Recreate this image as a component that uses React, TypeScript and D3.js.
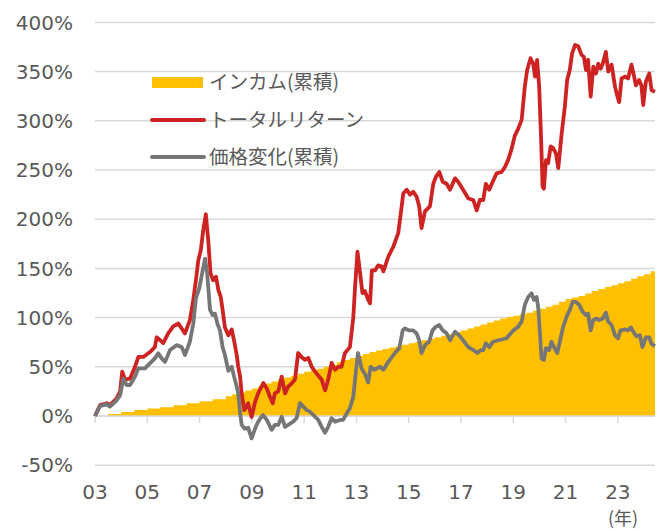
import * as d3 from "d3";

const width = 666;
const height = 531;

// y軸の目盛り (%)
const yTicks = [-50, 0, 50, 100, 150, 200, 250, 300, 350, 400];
// x軸の目盛り
const xTickYears = [2003, 2005, 2007, 2009, 2011, 2013, 2015, 2017, 2019, 2021, 2023];
const xTickLabels = ["03", "05", "07", "09", "11", "13", "15", "17", "19", "21", "23"];

const legendLabels = ["インカム(累積)", "トータルリターン", "価格変化(累積)"];

// インカム(累積) [年, %]
const income: [number, number][] = [
  [2003.0, 0], [2003.5, 2], [2004.0, 4], [2004.5, 6], [2005.0, 7.5], [2005.5, 9],
  [2006.0, 11], [2006.5, 13], [2007.0, 15], [2007.5, 17], [2008.0, 20], [2008.25, 22],
  [2008.5, 24], [2008.75, 26], [2009.0, 28], [2009.25, 30.5], [2009.5, 33], [2009.75, 35],
  [2010.0, 37], [2010.25, 39], [2010.5, 41], [2010.75, 43], [2011.0, 45], [2011.25, 46.5],
  [2011.5, 48], [2011.75, 50], [2012.0, 52], [2012.25, 54.5], [2012.5, 57], [2012.75, 59],
  [2013.0, 61], [2013.25, 63], [2013.5, 65], [2013.75, 66.5], [2014.0, 68], [2014.25, 69.5],
  [2014.5, 71], [2014.75, 72.5], [2015.0, 74], [2015.25, 75.5], [2015.5, 77], [2015.75, 78.5],
  [2016.0, 80], [2016.25, 81.5], [2016.5, 83], [2016.75, 85], [2017.0, 87], [2017.25, 89],
  [2017.5, 91], [2017.75, 93], [2018.0, 95], [2018.25, 97], [2018.5, 99], [2018.75, 100.5],
  [2019.0, 102], [2019.25, 103.5], [2019.5, 105], [2019.75, 107], [2020.0, 109], [2020.25, 111],
  [2020.5, 113], [2020.75, 116], [2021.0, 119], [2021.25, 120.5], [2021.5, 122], [2021.75, 124.5],
  [2022.0, 127], [2022.25, 129], [2022.5, 131], [2022.75, 133], [2023.0, 135], [2023.25, 137],
  [2023.5, 139.5], [2023.75, 142], [2024.0, 144], [2024.25, 147], [2024.42, 148],
];

// トータルリターン [年, %]
const totalReturn: [number, number][] = [
  [2003.0, 0], [2003.19, 11], [2003.45, 13], [2003.57, 11], [2003.83, 18], [2003.96, 25],
  [2004.04, 45], [2004.15, 37], [2004.34, 38], [2004.53, 50], [2004.66, 60], [2004.85, 60],
  [2005.1, 65], [2005.29, 70], [2005.36, 80], [2005.49, 77], [2005.61, 74], [2005.8, 84],
  [2005.99, 91], [2006.19, 94], [2006.44, 84], [2006.63, 97.5], [2006.76, 118], [2006.86, 138],
  [2006.95, 158], [2007.05, 169], [2007.14, 189], [2007.24, 205], [2007.33, 179], [2007.42, 145],
  [2007.52, 138], [2007.63, 141.5], [2007.72, 128], [2007.81, 121], [2007.88, 108], [2007.97, 90],
  [2008.1, 82], [2008.23, 88], [2008.33, 75], [2008.42, 62], [2008.48, 50], [2008.55, 40],
  [2008.61, 23], [2008.71, 6], [2008.86, 13], [2008.99, -1], [2009.12, 14], [2009.24, 23],
  [2009.44, 33.5], [2009.57, 28], [2009.69, 19.6], [2009.8, 13], [2009.88, 23], [2010.01, 25],
  [2010.14, 40], [2010.27, 23], [2010.39, 30], [2010.52, 33], [2010.65, 37], [2010.77, 64],
  [2010.9, 60], [2011.03, 57], [2011.16, 59], [2011.29, 50], [2011.48, 43], [2011.67, 37],
  [2011.8, 26], [2011.92, 37], [2012.05, 54], [2012.18, 47], [2012.3, 50], [2012.43, 50],
  [2012.56, 64], [2012.75, 70], [2012.88, 100], [2012.94, 128], [2013.04, 167], [2013.11, 152],
  [2013.23, 125], [2013.32, 127], [2013.45, 118], [2013.52, 114.5], [2013.59, 148], [2013.71, 148],
  [2013.83, 153], [2013.96, 152], [2014.03, 147], [2014.22, 162], [2014.41, 172], [2014.6, 186],
  [2014.73, 213], [2014.79, 226], [2014.92, 230], [2015.05, 225], [2015.17, 228], [2015.3, 223],
  [2015.4, 213], [2015.49, 191], [2015.62, 208], [2015.81, 213], [2015.94, 236], [2016.04, 243],
  [2016.17, 248], [2016.3, 238], [2016.45, 236], [2016.58, 230], [2016.77, 241.5], [2016.89, 238],
  [2017.08, 230], [2017.28, 221], [2017.47, 219.5], [2017.6, 209], [2017.72, 219.5], [2017.85, 219.5],
  [2017.95, 236], [2018.08, 230], [2018.23, 239], [2018.36, 246.6], [2018.55, 248], [2018.68, 253],
  [2018.8, 260], [2018.93, 271], [2019.06, 285], [2019.19, 292], [2019.32, 301], [2019.44, 334.7],
  [2019.53, 351.6], [2019.66, 363.5], [2019.76, 358], [2019.83, 345], [2019.91, 362], [2019.99, 334.7],
  [2020.06, 284], [2020.12, 233], [2020.17, 231], [2020.25, 260], [2020.33, 257], [2020.43, 274],
  [2020.53, 272], [2020.63, 267], [2020.72, 252], [2020.85, 287], [2020.97, 314], [2021.06, 341.5],
  [2021.16, 351.6], [2021.25, 368.6], [2021.36, 377], [2021.48, 376], [2021.61, 367], [2021.7, 365],
  [2021.78, 351.6], [2021.86, 362], [2021.96, 324.5], [2022.06, 355], [2022.16, 348], [2022.25, 358],
  [2022.34, 353], [2022.42, 358], [2022.54, 370], [2022.63, 350], [2022.76, 357], [2022.89, 334.7],
  [2022.97, 326], [2023.05, 319], [2023.14, 343], [2023.27, 345], [2023.39, 343], [2023.52, 357],
  [2023.61, 346.5], [2023.69, 336], [2023.81, 341.5], [2023.9, 336], [2023.97, 316], [2024.07, 339.7],
  [2024.2, 348], [2024.29, 331], [2024.42, 329.6],
];

// 価格変化(累積) [年, %]
const priceChange: [number, number][] = [
  [2003.0, 0], [2003.19, 10], [2003.45, 12], [2003.57, 9.5], [2003.83, 16], [2003.96, 21],
  [2004.08, 38], [2004.21, 31.5], [2004.34, 31.5], [2004.53, 40], [2004.66, 48.5], [2004.91, 48.5],
  [2005.1, 53.5], [2005.29, 58.6], [2005.42, 63.7], [2005.55, 58.6], [2005.68, 55], [2005.87, 67],
  [2006.12, 72], [2006.32, 70], [2006.44, 62], [2006.63, 75.5], [2006.76, 94], [2006.86, 119.6],
  [2006.99, 130], [2007.12, 148], [2007.21, 160], [2007.29, 145], [2007.4, 108], [2007.5, 102.6],
  [2007.59, 104], [2007.68, 94], [2007.78, 87], [2007.88, 70], [2007.97, 62], [2008.1, 46],
  [2008.23, 50], [2008.33, 39], [2008.42, 30], [2008.48, 23], [2008.55, 3], [2008.61, -9],
  [2008.73, -13], [2008.86, -12], [2008.99, -22.7], [2009.12, -13], [2009.24, -5.8], [2009.37, -0.7],
  [2009.43, 1], [2009.57, -4], [2009.76, -14], [2009.88, -9], [2010.01, -9], [2010.14, -0.7],
  [2010.27, -11], [2010.39, -9], [2010.58, -5.8], [2010.71, -2.3], [2010.84, 13], [2010.97, 9.5],
  [2011.1, 6], [2011.22, 4.4], [2011.35, 1], [2011.54, -4], [2011.67, -11], [2011.8, -17],
  [2011.92, -11], [2012.05, -2.3], [2012.18, -5.8], [2012.37, -4], [2012.49, -4], [2012.63, 2.7],
  [2012.75, 7.8], [2012.88, 19.6], [2012.97, 43], [2013.06, 64], [2013.2, 48], [2013.32, 43],
  [2013.45, 34], [2013.54, 50], [2013.68, 47], [2013.9, 50], [2014.03, 47], [2014.22, 55],
  [2014.47, 64], [2014.64, 69], [2014.77, 87], [2014.85, 89], [2015.02, 87], [2015.17, 87],
  [2015.3, 84], [2015.4, 77], [2015.49, 64], [2015.62, 72], [2015.78, 75.5], [2015.91, 87],
  [2016.04, 90.8], [2016.17, 92.5], [2016.3, 87], [2016.45, 84], [2016.58, 77], [2016.77, 85.7],
  [2016.93, 82], [2017.08, 77], [2017.28, 70], [2017.47, 67], [2017.62, 64], [2017.75, 67],
  [2017.85, 67], [2017.95, 74], [2018.08, 70], [2018.23, 75.5], [2018.42, 77], [2018.59, 78],
  [2018.74, 79], [2018.87, 83], [2019.0, 87], [2019.19, 90.8], [2019.32, 96], [2019.44, 113],
  [2019.57, 121], [2019.7, 124.7], [2019.79, 118], [2019.89, 121], [2019.95, 111], [2020.02, 84],
  [2020.08, 58.6], [2020.17, 57], [2020.25, 69], [2020.37, 67], [2020.46, 75.5], [2020.56, 70],
  [2020.68, 64], [2020.78, 75.5], [2020.91, 90.8], [2021.04, 101], [2021.16, 107.7], [2021.27, 116],
  [2021.39, 116], [2021.52, 113], [2021.65, 106], [2021.78, 102.6], [2021.86, 104], [2021.96, 87],
  [2022.06, 97.5], [2022.19, 99], [2022.29, 97.5], [2022.42, 99], [2022.54, 105], [2022.63, 96],
  [2022.76, 92.5], [2022.89, 82], [2023.01, 79], [2023.1, 87], [2023.27, 88], [2023.39, 87],
  [2023.5, 90], [2023.59, 85.7], [2023.71, 81], [2023.84, 82], [2023.94, 70], [2024.07, 80],
  [2024.2, 80], [2024.29, 73], [2024.42, 71],
];

const YELLOW = "#FFC000";
const RED = "#CD2323";
const GRAY = "#767676";
const TEXT = "#595959";
const GRID = "#D9D9D9";

export default function App() {
  const x = d3.scaleLinear().domain([2003, 2024.42]).range([95, 655]);
  const y = d3.scaleLinear().domain([-50, 400]).range([465.2, 22.4]);

  const area = d3
    .area<[number, number]>()
    .curve(d3.curveStepAfter)
    .x((d) => x(d[0]))
    .y0(y(0))
    .y1((d) => y(d[1]));

  const line = d3
    .line<[number, number]>()
    .x((d) => x(d[0]))
    .y((d) => y(d[1]));

  const font = "'DejaVu Sans', Verdana, sans-serif";
  const jpFont = "'Noto Sans CJK JP', sans-serif";

  return (
    <svg
      width={width}
      height={height}
      style={{ position: "absolute", left: 0, top: 0, background: "#fff" }}
    >
      {/* grid */}
      <g>
        {yTicks.map((t) => (
          <line key={t} x1={95} x2={655} y1={y(t)} y2={y(t)} stroke={GRID} strokeWidth={1.5} />
        ))}
      </g>
      <g fontFamily={font} fontSize={20} fill={TEXT} textAnchor="end">
        {yTicks.map((t) => (
          <text key={t} x={73} y={y(t)} dy="0.36em">
            {t}%
          </text>
        ))}
      </g>

      <path d={area(income) ?? ""} fill={YELLOW} />

      {/* x axis */}
      <line x1={95} x2={655} y1={y(0)} y2={y(0)} stroke={GRID} strokeWidth={1.5} />
      <g>
        {xTickYears.map((t) => (
          <line key={t} x1={x(t)} x2={x(t)} y1={y(0)} y2={y(0) + 7} stroke={GRID} strokeWidth={1.5} />
        ))}
      </g>
      <g fontFamily={font} fontSize={20} fill={TEXT} textAnchor="middle">
        {xTickYears.map((t, i) => (
          <text key={t} x={x(t)} y={499}>
            {xTickLabels[i]}
          </text>
        ))}
      </g>
      <text x={623} y={525} fontFamily={jpFont} fontSize={18} fill={TEXT} textAnchor="middle">
        (年)
      </text>

      <path d={line(totalReturn) ?? ""} fill="none" stroke={RED} strokeWidth={3.8} strokeLinejoin="round" />
      <path d={line(priceChange) ?? ""} fill="none" stroke={GRAY} strokeWidth={3.8} strokeLinejoin="round" />

      {/* legend */}
      <g fontFamily={jpFont} fontSize={19.5} fill={TEXT}>
        <rect x={152} y={77} width={51} height={11} fill={YELLOW} />
        <text x={209} y={82.5} dy="0.35em">{legendLabels[0]}</text>
        <line x1={152} x2={204} y1={120} y2={120} stroke={RED} strokeWidth={4} strokeLinecap="round" />
        <text x={209} y={120} dy="0.35em">{legendLabels[1]}</text>
        <line x1={152} x2={204} y1={157} y2={157} stroke={GRAY} strokeWidth={4} strokeLinecap="round" />
        <text x={209} y={157} dy="0.35em">{legendLabels[2]}</text>
      </g>
    </svg>
  );
}
